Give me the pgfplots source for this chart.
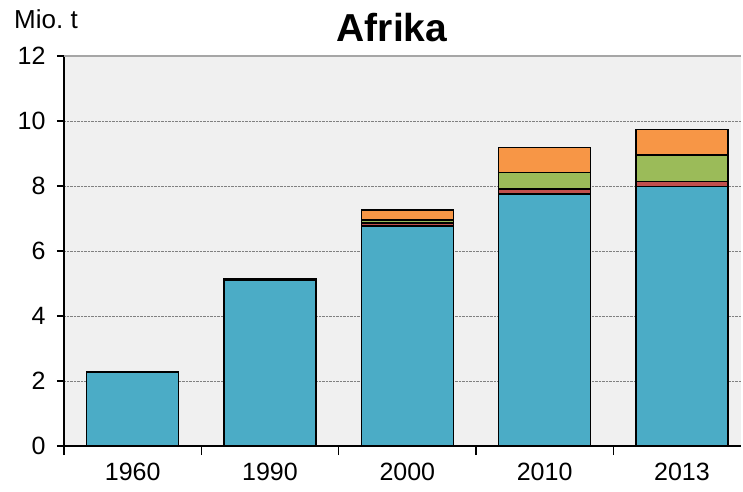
\documentclass[border=0pt]{standalone}
\usepackage{pgfplots}
\pgfplotsset{compat=1.18}
\usepackage{fontspec}
\setmainfont{Liberation Sans}
\definecolor{cblue}{RGB}{75,172,198}
\definecolor{cred}{RGB}{192,80,77}
\definecolor{cgreen}{RGB}{155,187,89}
\definecolor{corange}{RGB}{247,150,70}
\definecolor{bg}{RGB}{240,240,240}
\begin{document}
\begin{tikzpicture}[x=1pt,y=1pt]
\useasboundingbox (0,0) rectangle (743,491);
\begin{axis}[
  at={(64pt,45pt)}, anchor=south west,
  scale only axis, width=677pt, height=390pt,
  xmin=-0.5, xmax=4.43, ymin=0, ymax=12,
  ybar stacked, bar width=92pt,
  axis background/.style={fill=bg},
  axis lines*=left,
  axis line style={-, black, line width=1.2pt},
  ytick={0,2,...,12},
  ymajorgrids, major grid style={densely dotted, gray, line width=0.6pt},
  xtick={0,1,2,3,4},
  xticklabels={1960,1990,2000,2010,2013},
  tick align=outside,
  major tick style={black, line width=1.2pt},
  x tick style={draw=none},
  y tick style={black},
  major tick length=7pt,
  extra x ticks={-0.5,0.5,1.5,2.5,3.5},
  extra x tick labels={},
  extra x tick style={grid=none, major tick length=9pt, x tick style={draw=black, line width=1.2pt}},
  ticklabel style={font=\fontsize{25}{30}\selectfont},
  yticklabel style={xshift=-8pt},
  xticklabel style={yshift=-7pt},
  /pgf/number format/assume math mode=true,
  clip=false,
]
\addplot[fill=cblue, draw=black, line width=1.6pt] coordinates {(0,2.27) (1,5.09) (2,6.77) (3,7.75) (4,7.98)};
\addplot[fill=cred, draw=black, line width=1.6pt] coordinates {(0,0.01) (1,0.04) (2,0.09) (3,0.15) (4,0.16)};
\addplot[fill=cgreen, draw=black, line width=1.6pt] coordinates {(0,0.01) (1,0.03) (2,0.09) (3,0.51) (4,0.81)};
\addplot[fill=corange, draw=black, line width=1.6pt] coordinates {(0,0) (1,0) (2,0.31) (3,0.78) (4,0.79)};
\draw[gray!70, line width=1.5pt] (rel axis cs:0,1) -- (rel axis cs:1,1);
\end{axis}
\node[anchor=base west, inner sep=0pt, font=\fontsize{26}{30}\selectfont] at (14,462) {Mio.\ t};
\node[anchor=base, inner sep=0pt, font=\fontsize{39}{45}\selectfont\bfseries] at (392,449) {Afrika};
\end{tikzpicture}
\end{document}
